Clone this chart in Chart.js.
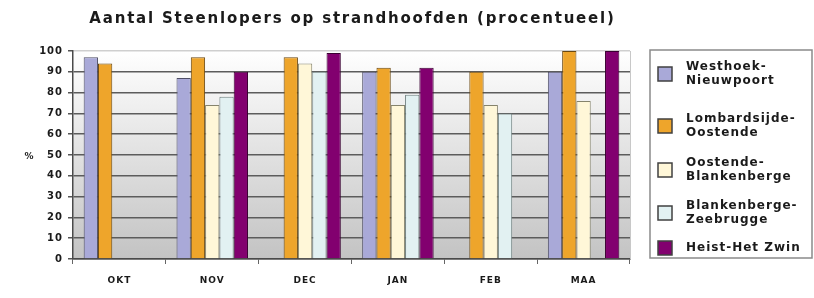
<!DOCTYPE html>
<html>
<head>
<meta charset="utf-8">
<script src="https://cdn.jsdelivr.net/npm/chart.js@4/dist/chart.umd.min.js"></script>
<style>
  html, body { margin: 0; padding: 0; background: #fff; }
  canvas { display: block; }
</style>
</head>
<body>
<canvas id="chart" width="814" height="298"></canvas>
<script>
const months = ['OKT', 'NOV', 'DEC', 'JAN', 'FEB', 'MAA'];

const westhoek     = [97, 87, null, 90, null, 90];
const lombardsijde = [94, 97, 97, 92, 90, 100];
const oostende     = [null, 74, 94, 74, 74, 76];
const blankenberge = [null, 78, 90, 79, 70, null];
const heist        = [null, 90, 99, 92, null, 100];

const seriesNames = [
  'Westhoek-Nieuwpoort',
  'Lombardsijde-Oostende',
  'Oostende-Blankenberge',
  'Blankenberge-Zeebrugge',
  'Heist-Het Zwin',
];
const legendLines = [
  ['Westhoek-', 'Nieuwpoort'],
  ['Lombardsijde-', 'Oostende'],
  ['Oostende-', 'Blankenberge'],
  ['Blankenberge-', 'Zeebrugge'],
  ['Heist-Het Zwin'],
];

const titleText = 'Aantal Steenlopers op strandhoofden (procentueel)';
const yAxisLabel = '%';

const fills   = ['#a9a9d8', '#eea52b', '#fff7d8', '#e2f1f2', '#82006f'];
const borders = ['#4e4e66', '#6a4810', '#85836c', '#6f8080', '#3a0032'];

const seriesValues = [westhoek, lombardsijde, oostende, blankenberge, heist];

const FONT = '"DejaVu Sans", Verdana, sans-serif';

const decor = {
  id: 'decor',
  beforeLayout(chart) { chart.ctx.letterSpacing = '1px'; },
  beforeDraw(chart) {
    const { ctx, chartArea: a } = chart;
    ctx.save();
    const g = ctx.createLinearGradient(0, a.top, 0, a.bottom);
    g.addColorStop(0, '#ffffff');
    g.addColorStop(1, '#c3c3c3');
    ctx.fillStyle = g;
    ctx.fillRect(a.left, a.top, a.right - a.left, a.bottom - a.top);
    ctx.restore();
    ctx.letterSpacing = '1px';
  },
  afterDraw(chart) {
    const { ctx, chartArea: a } = chart;
    ctx.save();
    // right edge of the plot
    ctx.strokeStyle = '#c8c8c8';
    ctx.lineWidth = 1;
    ctx.beginPath();
    ctx.moveTo(a.right + 0.5, a.top);
    ctx.lineTo(a.right + 0.5, a.bottom);
    ctx.stroke();

    // title
    ctx.fillStyle = '#1a1a1a';
    ctx.font = 'bold 15px ' + FONT;
    ctx.letterSpacing = '1.8px';
    ctx.textAlign = 'center';
    ctx.textBaseline = 'middle';
    ctx.fillText(titleText, (a.left + a.right) / 2 + 1, 19);

    // y axis label
    ctx.font = 'bold 9px ' + FONT;
    ctx.letterSpacing = '0px';
    ctx.fillText(yAxisLabel, 29, 157);

    // legend
    const bx = 650, by = 50, bw = 162, bh = 208;
    ctx.fillStyle = '#ffffff';
    ctx.fillRect(bx, by, bw, bh);
    ctx.strokeStyle = '#8a8a8a';
    ctx.lineWidth = 1.5;
    ctx.strokeRect(bx, by, bw, bh);

    const rowY = [74, 126, 170, 213, 248];
    ctx.font = 'bold 12px ' + FONT;
    ctx.letterSpacing = '1px';
    ctx.textAlign = 'left';
    chart.data.datasets.forEach((ds, i) => {
      const cy = rowY[i];
      ctx.fillStyle = ds.backgroundColor;
      ctx.fillRect(658, cy - 7, 14, 14);
      ctx.strokeStyle = '#404040';
      ctx.lineWidth = 1.5;
      ctx.strokeRect(658, cy - 7, 14, 14);
      const lines = legendLines[i];
      ctx.fillStyle = '#1a1a1a';
      const start = cy - (lines.length - 1) * 7;
      lines.forEach((t, j) => ctx.fillText(t, 686, start + j * 14));
    });
    ctx.restore();
  }
};

new Chart(document.getElementById('chart'), {
  type: 'bar',
  data: {
    labels: months,
    datasets: seriesValues.map((vals, i) => ({
      label: seriesNames[i],
      data: vals,
      backgroundColor: fills[i],
      borderColor: borders[i],
      borderWidth: 1,
      categoryPercentage: 0.77,
      barPercentage: 1.0,
    })),
  },
  options: {
    responsive: false,
    animation: false,
    layout: { padding: { top: 51, right: 184, left: 0, bottom: 0 } },
    plugins: {
      legend: { display: false },
      title: { display: false },
      tooltip: { enabled: false },
    },
    scales: {
      x: {
        afterFit(scale) { scale.height = 39; },
        grid: {
          offset: true,
          drawOnChartArea: false,
          tickLength: 5,
          tickColor: '#666',
        },
        border: { color: '#4a4a4a', width: 1.5 },
        ticks: {
          color: '#1a1a1a',
          padding: 11,
          font: { family: FONT, size: 9, weight: 'bold' },
        },
      },
      y: {
        min: 0,
        max: 100,
        afterFit(scale) { scale.width = 73; },
        grid: {
          color: c => c.tick && c.tick.value === 100 ? '#cfcfcf' : '#5c5c5c',
          lineWidth: 1.5,
          tickLength: 5,
          tickColor: '#555',
        },
        border: { color: '#4a4a4a', width: 1.5 },
        ticks: {
          stepSize: 10,
          color: '#1a1a1a',
          padding: 5,
          font: { family: FONT, size: 10, weight: 'bold' },
        },
      },
    },
  },
  plugins: [decor],
});
</script>
</body>
</html>
